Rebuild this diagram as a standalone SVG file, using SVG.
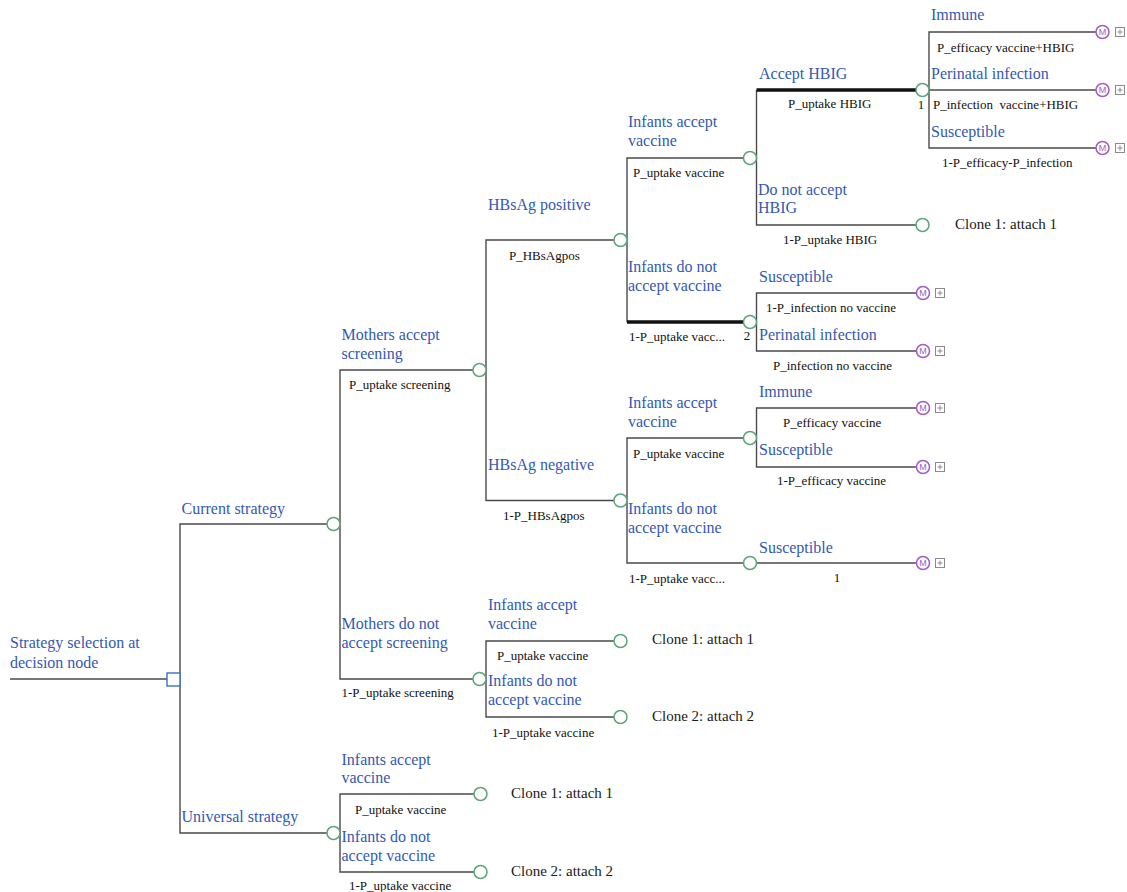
<svg xmlns="http://www.w3.org/2000/svg" width="1127" height="892" viewBox="0 0 1127 892">
<style>
.ln{stroke:#4a4a4a;stroke-width:1.4;fill:none}
.thk{stroke:#111;stroke-width:3.5;fill:none}
.ch{fill:#fff;stroke:#5aa57a;stroke-width:1.5}
.dec{fill:#fff;stroke:#3b6fc4;stroke-width:1.4}
.b{font-family:"Liberation Serif",serif;font-size:16px;fill:#3359b3}
.p{font-family:"Liberation Serif",serif;font-size:13px;fill:#111}
.c{font-family:"Liberation Serif",serif;font-size:15px;fill:#1a1a1a}
.mc{fill:#fff;stroke:#a45cc2;stroke-width:1.5}
.mt{font-family:"Liberation Sans",sans-serif;font-size:9px;fill:#a45cc2;text-anchor:middle}
.pb{fill:#fff;stroke:#8a8a8a;stroke-width:1}
.pl{stroke:#8a8a8a;stroke-width:1}
</style>
<rect width="1127" height="892" fill="#fff"/>
<g id="connectors">
<path class="ln" d="M10 679H167"/>
<path class="ln" d="M180 679V524H327"/>
<path class="ln" d="M180 679V833H327"/>
<path class="ln" d="M340 524V370H473"/>
<path class="ln" d="M340 524V679H473"/>
<path class="ln" d="M486 370V240H614"/>
<path class="ln" d="M486 370V500.5H614"/>
<path class="ln" d="M627 240V158H744"/>
<path class="ln" d="M627 240V322"/>
<path class="thk" d="M627 322H744"/>
<path class="ln" d="M756.5 158V90"/>
<path class="thk" d="M756.5 90H916"/>
<path class="ln" d="M756.5 158V225H916"/>
<path class="ln" d="M929 90V32H1096"/>
<path class="ln" d="M929 90H1096"/>
<path class="ln" d="M929 90V148H1096"/>
<path class="ln" d="M756.5 322V293H916.5"/>
<path class="ln" d="M756.5 322V351H916.5"/>
<path class="ln" d="M627 500.5V438H744"/>
<path class="ln" d="M627 500.5V563H744"/>
<path class="ln" d="M756.5 438V408H916.5"/>
<path class="ln" d="M756.5 438V467H916.5"/>
<path class="ln" d="M756.5 563H916.5"/>
<path class="ln" d="M486 679V641H614"/>
<path class="ln" d="M486 679V717H614"/>
<path class="ln" d="M340 833V794H474"/>
<path class="ln" d="M340 833V872H474"/>
</g>
<g id="root">
<rect class="dec" x="167" y="673" width="13" height="13"/>
<text class="b" x="10" y="648">Strategy selection at</text>
<text class="b" x="10" y="667.5">decision node</text>
</g>
<g id="current">
<circle class="ch" cx="333.5" cy="524" r="6.5"/>
<text class="b" x="181.5" y="513.5">Current strategy</text>
</g>
<g id="universal">
<circle class="ch" cx="333.5" cy="833" r="6.5"/>
<text class="b" x="181.5" y="821.5">Universal strategy</text>
</g>
<g id="mothers-accept">
<circle class="ch" cx="479.5" cy="370" r="6.5"/>
<text class="b" x="341.5" y="339.5">Mothers accept</text>
<text class="b" x="341.5" y="358.5">screening</text>
<text class="p" x="349" y="389">P_uptake screening</text>
</g>
<g id="mothers-not">
<circle class="ch" cx="479.5" cy="679" r="6.5"/>
<text class="b" x="341.5" y="628.5">Mothers do not</text>
<text class="b" x="341.5" y="648">accept screening</text>
<text class="p" x="341.5" y="697">1-P_uptake screening</text>
</g>
<g id="hbsag-pos">
<circle class="ch" cx="620.5" cy="240" r="6.5"/>
<text class="b" x="488" y="209.5">HBsAg positive</text>
<text class="p" x="509" y="259.5">P_HBsAgpos</text>
</g>
<g id="hbsag-neg">
<circle class="ch" cx="620.5" cy="500.5" r="6.5"/>
<text class="b" x="488" y="470">HBsAg negative</text>
<text class="p" x="503" y="520">1-P_HBsAgpos</text>
</g>
<g id="pos-infants-accept">
<circle class="ch" cx="750" cy="158" r="6.5"/>
<text class="b" x="628" y="127">Infants accept</text>
<text class="b" x="628" y="146">vaccine</text>
<text class="p" x="633" y="177">P_uptake vaccine</text>
</g>
<g id="pos-infants-not">
<circle class="ch" cx="750" cy="322" r="6.5"/>
<text class="b" x="628" y="272">Infants do not</text>
<text class="b" x="628" y="291">accept vaccine</text>
<text class="p" x="629" y="341">1-P_uptake vacc...</text>
<text class="p" x="747" y="340" text-anchor="middle">2</text>
</g>
<g id="accept-hbig">
<circle class="ch" cx="922.5" cy="90" r="6.5"/>
<text class="b" x="759" y="79">Accept HBIG</text>
<text class="p" x="788" y="108">P_uptake HBIG</text>
<text class="p" x="921" y="109" text-anchor="middle">1</text>
</g>
<g id="not-hbig">
<circle class="ch" cx="922.5" cy="225" r="6.5"/>
<text class="b" x="758" y="195">Do not accept</text>
<text class="b" x="758" y="213">HBIG</text>
<text class="p" x="783" y="244">1-P_uptake HBIG</text>
<text class="c" x="955" y="229">Clone 1: attach 1</text>
</g>
<g id="hbig-immune">
<circle class="mc" cx="1102.5" cy="32" r="6.5"/><text class="mt" x="1102.5" y="35.3">M</text>
<rect class="pb" x="1115.5" y="27.5" width="9" height="9"/><path class="pl" d="M1120 29.5V34.5M1117.5 32H1122.5"/>
<text class="b" x="931" y="20">Immune</text>
<text class="p" x="937" y="52">P_efficacy vaccine+HBIG</text>
</g>
<g id="hbig-perinatal">
<circle class="mc" cx="1102.5" cy="90" r="6.5"/><text class="mt" x="1102.5" y="93.3">M</text>
<rect class="pb" x="1115.5" y="85.5" width="9" height="9"/><path class="pl" d="M1120 87.5V92.5M1117.5 90H1122.5"/>
<text class="b" x="931" y="78.5">Perinatal infection</text>
<text class="p" x="933" y="109" style="white-space:pre">P_infection  vaccine+HBIG</text>
</g>
<g id="hbig-susceptible">
<circle class="mc" cx="1102.5" cy="148" r="6.5"/><text class="mt" x="1102.5" y="151.3">M</text>
<rect class="pb" x="1115.5" y="143.5" width="9" height="9"/><path class="pl" d="M1120 145.5V150.5M1117.5 148H1122.5"/>
<text class="b" x="931" y="136.5">Susceptible</text>
<text class="p" x="942" y="167">1-P_efficacy-P_infection</text>
</g>
<g id="novac-susceptible">
<circle class="mc" cx="923" cy="293" r="6.5"/><text class="mt" x="923" y="296.3">M</text>
<rect class="pb" x="935.5" y="288.5" width="9" height="9"/><path class="pl" d="M940 290.5V295.5M937.5 293H942.5"/>
<text class="b" x="759" y="282">Susceptible</text>
<text class="p" x="766" y="312">1-P_infection no vaccine</text>
</g>
<g id="novac-perinatal">
<circle class="mc" cx="923" cy="351" r="6.5"/><text class="mt" x="923" y="354.3">M</text>
<rect class="pb" x="935.5" y="346.5" width="9" height="9"/><path class="pl" d="M940 348.5V353.5M937.5 351H942.5"/>
<text class="b" x="759" y="339.5">Perinatal infection</text>
<text class="p" x="773" y="370">P_infection no vaccine</text>
</g>
<g id="neg-infants-accept">
<circle class="ch" cx="750" cy="438" r="6.5"/>
<text class="b" x="628" y="408">Infants accept</text>
<text class="b" x="628" y="427">vaccine</text>
<text class="p" x="633" y="458">P_uptake vaccine</text>
</g>
<g id="neg-infants-not">
<circle class="ch" cx="750" cy="563" r="6.5"/>
<text class="b" x="628" y="514">Infants do not</text>
<text class="b" x="628" y="533">accept vaccine</text>
<text class="p" x="629" y="583">1-P_uptake vacc...</text>
</g>
<g id="neg-immune">
<circle class="mc" cx="923" cy="408" r="6.5"/><text class="mt" x="923" y="411.3">M</text>
<rect class="pb" x="935.5" y="403.5" width="9" height="9"/><path class="pl" d="M940 405.5V410.5M937.5 408H942.5"/>
<text class="b" x="759" y="397">Immune</text>
<text class="p" x="783" y="427">P_efficacy vaccine</text>
</g>
<g id="neg-susceptible">
<circle class="mc" cx="923" cy="467" r="6.5"/><text class="mt" x="923" y="470.3">M</text>
<rect class="pb" x="935.5" y="462.5" width="9" height="9"/><path class="pl" d="M940 464.5V469.5M937.5 467H942.5"/>
<text class="b" x="759" y="455">Susceptible</text>
<text class="p" x="777" y="485">1-P_efficacy vaccine</text>
</g>
<g id="neg-novac-susceptible">
<circle class="mc" cx="923" cy="563" r="6.5"/><text class="mt" x="923" y="566.3">M</text>
<rect class="pb" x="935.5" y="558.5" width="9" height="9"/><path class="pl" d="M940 560.5V565.5M937.5 563H942.5"/>
<text class="b" x="759" y="553">Susceptible</text>
<text class="p" x="837" y="582" text-anchor="middle">1</text>
</g>
<g id="mn-infants-accept">
<circle class="ch" cx="620.5" cy="641" r="6.5"/>
<text class="b" x="488" y="609.5">Infants accept</text>
<text class="b" x="488" y="628.5">vaccine</text>
<text class="p" x="497" y="660">P_uptake vaccine</text>
<text class="c" x="652" y="644">Clone 1: attach 1</text>
</g>
<g id="mn-infants-not">
<circle class="ch" cx="620.5" cy="717" r="6.5"/>
<text class="b" x="488" y="686">Infants do not</text>
<text class="b" x="488" y="705">accept vaccine</text>
<text class="p" x="492" y="737">1-P_uptake vaccine</text>
<text class="c" x="652" y="721">Clone 2: attach 2</text>
</g>
<g id="u-infants-accept">
<circle class="ch" cx="480.5" cy="794" r="6.5"/>
<text class="b" x="341.5" y="765">Infants accept</text>
<text class="b" x="341.5" y="783">vaccine</text>
<text class="p" x="355" y="814">P_uptake vaccine</text>
<text class="c" x="511" y="798">Clone 1: attach 1</text>
</g>
<g id="u-infants-not">
<circle class="ch" cx="480.5" cy="872" r="6.5"/>
<text class="b" x="341.5" y="842">Infants do not</text>
<text class="b" x="341.5" y="861">accept vaccine</text>
<text class="p" x="349" y="890">1-P_uptake vaccine</text>
<text class="c" x="511" y="876">Clone 2: attach 2</text>
</g>
</svg>
